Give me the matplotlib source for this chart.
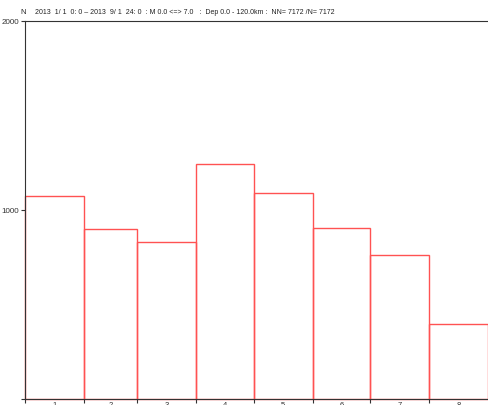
#!/usr/bin/env python3
"""Monthly event count histogram, 2013 Jan-Aug."""

import matplotlib

matplotlib.use("Agg")
import matplotlib.pyplot as plt
import numpy as np

# month bins (bin width = days in month)
months = np.arange("2013-01", "2013-10", dtype="datetime64[M]")
month_labels = ["1", "2", "3", "4", "5", "6", "7", "8"]
counts = [1071, 896, 830, 1244, 1087, 903, 762, 393]

title = ("2013  1/ 1  0: 0 \u2013 2013  9/ 1  24: 0  : M 0.0 <=> 7.0   :  "
         "Dep 0.0 - 120.0km :  NN= 7172 /N= 7172")

plt.rcParams["font.family"] = ["Liberation Sans Narrow", "Liberation Sans", "DejaVu Sans"]

edges = (months.astype("datetime64[D]") - months[0].astype("datetime64[D]")).astype(float)
widths = np.diff(edges)
centers = edges[:-1] + widths / 2

fig = plt.figure(figsize=(4.88, 4.06), dpi=100)
ax = fig.add_axes([25 / 488, 6.5 / 406, 1 - 25 / 488, (399.5 - 21.9) / 406])

ax.bar(edges[:-1], counts, width=widths, align="edge", fill=False,
       edgecolor="#ff5252", linewidth=1.0, clip_on=False)

ax.set_xlim(edges[0], edges[-1])
ax.set_ylim(0, 2000)

ax.set_yticks([0, 1000, 2000])
ax.set_yticklabels(["", "1000", "2000"])
ax.set_xticks(centers)
ax.set_xticklabels(month_labels)
ax.set_xticks(edges[:-1], minor=True)
ax.tick_params(axis="x", which="major", length=0, pad=1.5, labelsize=5.5, colors="#333333")
ax.tick_params(axis="x", which="minor", length=3, width=0.8, color="#333333")
ax.tick_params(axis="y", length=3, width=0.8, pad=1, labelsize=5.8, colors="#333333")

ax.spines["right"].set_visible(False)
for side in ("left", "top", "bottom"):
    ax.spines[side].set_linewidth(0.8)
    ax.spines[side].set_color("#333333")

fig.text(20 / 488, 1 - 13 / 406, "N", fontsize=5.5, ha="left", va="center", color="#222222")
fig.text(35 / 488, 1 - 13 / 406, title, fontsize=5.0, ha="left", va="center", color="#222222")

fig.savefig("out.png", dpi=100, facecolor="white")
plt.close()
